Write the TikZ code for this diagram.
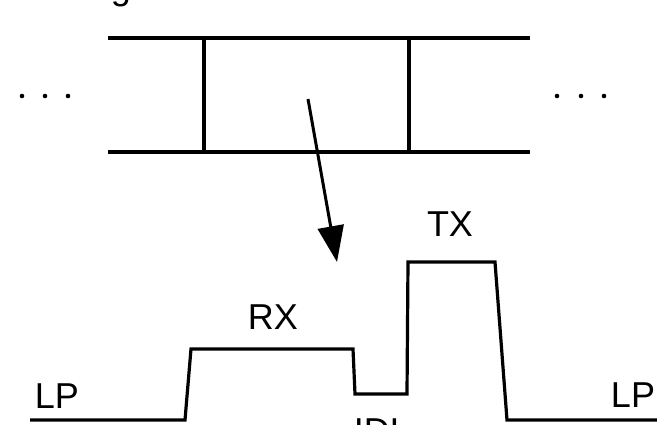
\documentclass[tikz,border=0pt]{standalone}
\usepackage{fontspec}
\setmainfont{Liberation Sans}
\usetikzlibrary{arrows.meta}
\begin{document}
\begin{tikzpicture}[x=1pt,y=-1pt,
  thick line/.style={line width=3.2pt,line cap=butt,line join=miter},
  lbl/.style={anchor=base,inner sep=0pt,font=\fontsize{36}{40}\selectfont},
  dotmark/.style={fill=black,draw=none}]
\useasboundingbox (0,0) rectangle (657,424);
\clip (0,0) rectangle (657,424);
% partial text at top (cut off by the picture edge, as in the reference)
\node[lbl] (gtext) at (121,-1) {g};
% frame of slots
\coordinate (tl) at (108,38);
\coordinate (tr) at (530,38);
\coordinate (bl) at (108,152);
\coordinate (br) at (530,152);
\coordinate (v1t) at (204,38);
\coordinate (v1b) at (204,152);
\coordinate (v2t) at (409,38);
\coordinate (v2b) at (409,152);
\draw[thick line] (tl) -- (tr);
\draw[thick line] (bl) -- (br);
\draw[thick line] (v1t) -- (v1b);
\draw[thick line] (v2t) -- (v2b);
% dots
\foreach \x in {22,45,68,557,581,604}
  \fill[dotmark] (\x,96) circle (2.3);
% arrow
\coordinate (as) at (308,99);
\coordinate (ae) at (337,262);
\draw[line width=3pt,-{Triangle[length=36pt,width=26pt]}] (as) -- (ae);
% waveform
\coordinate (w0) at (30,420);
\coordinate (w1) at (185,420);
\coordinate (w2) at (191,349);
\coordinate (w3) at (353,349);
\coordinate (w4) at (355,394);
\coordinate (w5) at (407,394);
\coordinate (w6) at (408,262);
\coordinate (w7) at (495,262);
\coordinate (w8) at (507,420);
\coordinate (w9) at (660,420);
\draw[thick line] (w0) -- (w1) -- (w2) -- (w3) -- (w4) -- (w5) -- (w6) -- (w7) -- (w8) -- (w9);
% labels
\node[lbl] (lpl) at (57,408) {LP};
\node[lbl] (rx) at (273,329) {RX};
\node[lbl] (tx) at (450,236) {TX};
\node[lbl] (lpr) at (633,407) {LP};
\node[lbl] (idl) at (382,443) {IDL};
\end{tikzpicture}
\end{document}
